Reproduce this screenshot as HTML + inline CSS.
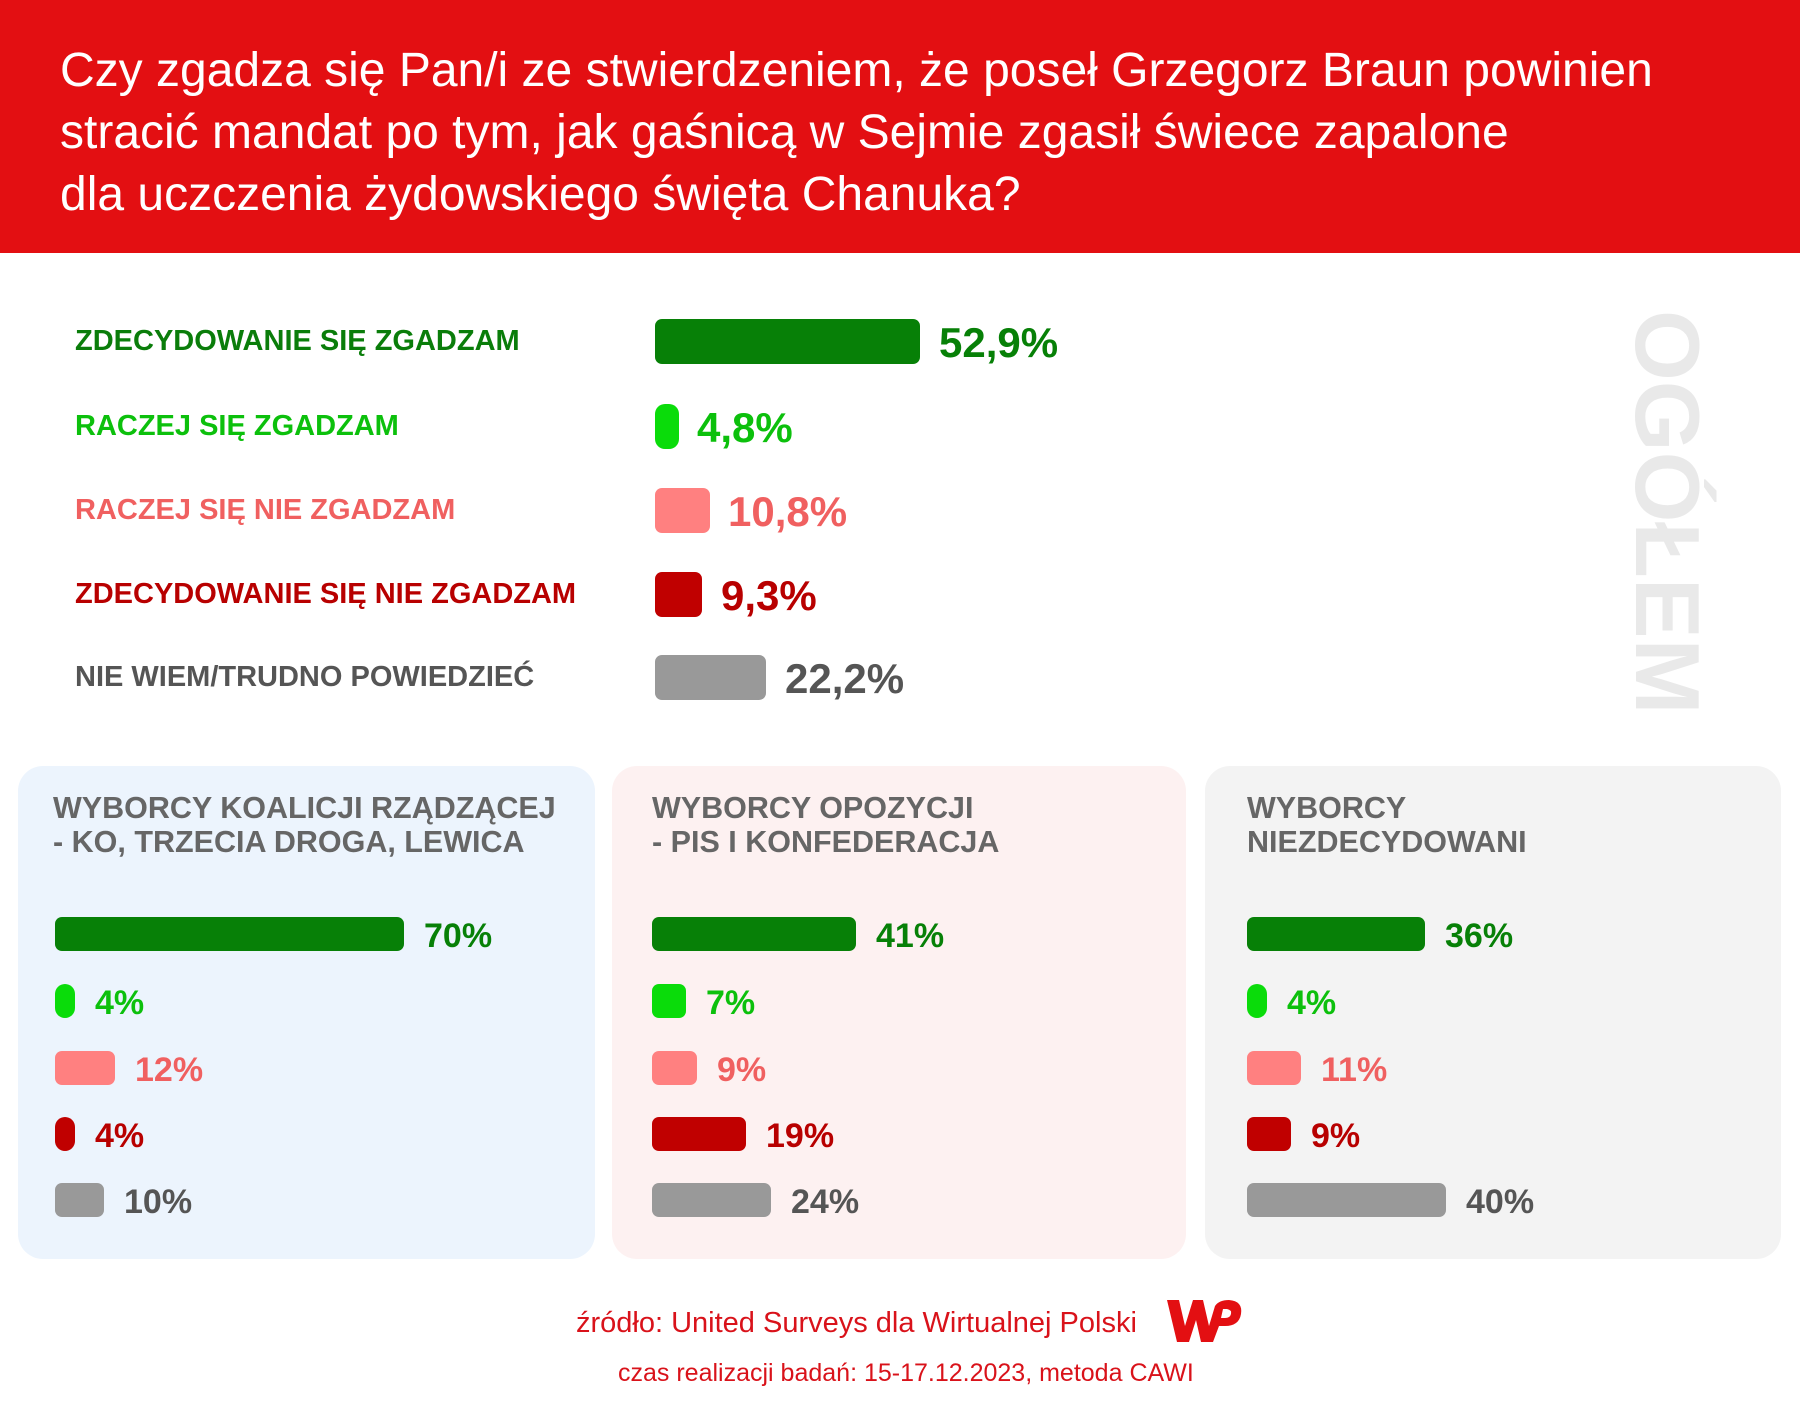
<!DOCTYPE html>
<html><head><meta charset="utf-8"><style>
*{margin:0;padding:0;box-sizing:border-box}
body{width:1800px;height:1425px;background:#fff;position:relative;overflow:hidden;font-family:"Liberation Sans",sans-serif}
.hdr{position:absolute;left:0;top:0;width:1800px;height:253px;background:#e30f12}
.t{position:absolute;left:60px;color:#fff;font-size:48px;line-height:48px;white-space:nowrap}
.lab{position:absolute;left:75px;font-weight:bold;font-size:29px;line-height:30px;white-space:nowrap}
.bar{position:absolute;border-radius:7px}
.val{position:absolute;font-weight:bold;white-space:nowrap}
.panel{position:absolute;top:766px;height:493px;border-radius:25px}
.pt{position:absolute;font-weight:bold;font-size:30.5px;line-height:34px;color:#666;white-space:nowrap}
.og{position:absolute;left:1600px;top:310px;font-weight:bold;font-size:91px;color:#e9e9e9;transform-origin:0 0;transform:translate(112px,0) rotate(90deg);white-space:nowrap;line-height:91px}
.f{position:absolute;color:#d9121a;white-space:nowrap}
</style></head><body>
<div class="hdr"></div>
<div class="t" style="top:47px">Czy zgadza się Pan/i ze stwierdzeniem, że poseł Grzegorz Braun powinien</div>
<div class="t" style="top:109px">stracić mandat po tym, jak gaśnicą w Sejmie zgasił świece zapalone</div>
<div class="t" style="top:171px">dla uczczenia żydowskiego święta Chanuka?</div>

<div class="lab" style="top:326px;color:#0a7d0a">ZDECYDOWANIE SIĘ ZGADZAM</div>
<div class="lab" style="top:411px;color:#0cc00c">RACZEJ SIĘ ZGADZAM</div>
<div class="lab" style="top:495px;color:#f06060">RACZEJ SIĘ NIE ZGADZAM</div>
<div class="lab" style="top:579px;color:#b80000">ZDECYDOWANIE SIĘ NIE ZGADZAM</div>
<div class="lab" style="top:662px;color:#555">NIE WIEM/TRUDNO POWIEDZIEĆ</div>

<div class="bar" style="left:655px;top:319px;width:265px;height:45px;background:#078007"></div>
<div class="bar" style="left:655px;top:404px;width:24px;height:45px;background:#0adc0a;border-radius:10px"></div>
<div class="bar" style="left:655px;top:488px;width:55px;height:45px;background:#ff8080"></div>
<div class="bar" style="left:655px;top:572px;width:47px;height:45px;background:#c00000"></div>
<div class="bar" style="left:655px;top:655px;width:111px;height:45px;background:#999"></div>

<div class="val" style="left:939px;top:319px;font-size:42px;color:#078007">52,9%</div>
<div class="val" style="left:697px;top:404px;font-size:42px;color:#0cc00c">4,8%</div>
<div class="val" style="left:728px;top:488px;font-size:42px;color:#f06060">10,8%</div>
<div class="val" style="left:721px;top:572px;font-size:42px;color:#b80000">9,3%</div>
<div class="val" style="left:785px;top:655px;font-size:42px;color:#555">22,2%</div>

<div class="og">OGÓŁEM</div>

<div class="panel" style="left:18px;width:577px;background:#ecf4fd"></div>
<div class="panel" style="left:612px;width:574px;background:#fdf1f1"></div>
<div class="panel" style="left:1205px;width:576px;background:#f3f3f3"></div>

<div class="pt" style="left:53px;top:791px">WYBORCY KOALICJI RZĄDZĄCEJ<br>- KO, TRZECIA DROGA, LEWICA</div>
<div class="pt" style="left:652px;top:791px">WYBORCY OPOZYCJI<br>- PIS I KONFEDERACJA</div>
<div class="pt" style="left:1247px;top:791px">WYBORCY<br>NIEZDECYDOWANI</div>

<div class="bar" style="left:55px;top:917px;width:349px;height:34px;background:#078007"></div>
<div class="bar" style="left:55px;top:984px;width:20px;height:34px;background:#0adc0a;border-radius:10px"></div>
<div class="bar" style="left:55px;top:1051px;width:60px;height:34px;background:#ff8080"></div>
<div class="bar" style="left:55px;top:1117px;width:20px;height:34px;background:#c00000;border-radius:10px"></div>
<div class="bar" style="left:55px;top:1183px;width:49px;height:34px;background:#999"></div>
<div class="val" style="left:424px;top:917px;font-size:34px;color:#078007">70%</div>
<div class="val" style="left:95px;top:984px;font-size:34px;color:#0cc00c">4%</div>
<div class="val" style="left:135px;top:1051px;font-size:34px;color:#f06060">12%</div>
<div class="val" style="left:95px;top:1117px;font-size:34px;color:#b80000">4%</div>
<div class="val" style="left:124px;top:1183px;font-size:34px;color:#555">10%</div>

<div class="bar" style="left:652px;top:917px;width:204px;height:34px;background:#078007"></div>
<div class="bar" style="left:652px;top:984px;width:34px;height:34px;background:#0adc0a"></div>
<div class="bar" style="left:652px;top:1051px;width:45px;height:34px;background:#ff8080"></div>
<div class="bar" style="left:652px;top:1117px;width:94px;height:34px;background:#c00000"></div>
<div class="bar" style="left:652px;top:1183px;width:119px;height:34px;background:#999"></div>
<div class="val" style="left:876px;top:917px;font-size:34px;color:#078007">41%</div>
<div class="val" style="left:706px;top:984px;font-size:34px;color:#0cc00c">7%</div>
<div class="val" style="left:717px;top:1051px;font-size:34px;color:#f06060">9%</div>
<div class="val" style="left:766px;top:1117px;font-size:34px;color:#b80000">19%</div>
<div class="val" style="left:791px;top:1183px;font-size:34px;color:#555">24%</div>

<div class="bar" style="left:1247px;top:917px;width:178px;height:34px;background:#078007"></div>
<div class="bar" style="left:1247px;top:984px;width:20px;height:34px;background:#0adc0a;border-radius:10px"></div>
<div class="bar" style="left:1247px;top:1051px;width:54px;height:34px;background:#ff8080"></div>
<div class="bar" style="left:1247px;top:1117px;width:44px;height:34px;background:#c00000"></div>
<div class="bar" style="left:1247px;top:1183px;width:199px;height:34px;background:#999"></div>
<div class="val" style="left:1445px;top:917px;font-size:34px;color:#078007">36%</div>
<div class="val" style="left:1287px;top:984px;font-size:34px;color:#0cc00c">4%</div>
<div class="val" style="left:1321px;top:1051px;font-size:34px;color:#f06060">11%</div>
<div class="val" style="left:1311px;top:1117px;font-size:34px;color:#b80000">9%</div>
<div class="val" style="left:1466px;top:1183px;font-size:34px;color:#555">40%</div>

<div class="f" style="left:576px;top:1307px;font-size:29px">źródło: United Surveys dla Wirtualnej Polski</div>
<div class="f" style="left:618px;top:1359px;font-size:25px">czas realizacji badań: 15-17.12.2023, metoda CAWI</div>
<svg style="position:absolute;left:1163px;top:1296px" width="82" height="50" viewBox="0 0 82 50">
<path d="M4 4 L16 4 L22 30 L30 4 L40 4 L46 30 L52 10 Q56 4 66 4 Q80 5 78 18 Q76 30 62 30 L56 30 L50 46 L38 46 L33 24 L26 46 L14 46 Z" fill="#e30f12"/>
<path d="M60 13 L64 13 Q69 14 68 18 Q67 22 62 22 L58 22 Z" fill="#fff"/>
</svg>
</body></html>
